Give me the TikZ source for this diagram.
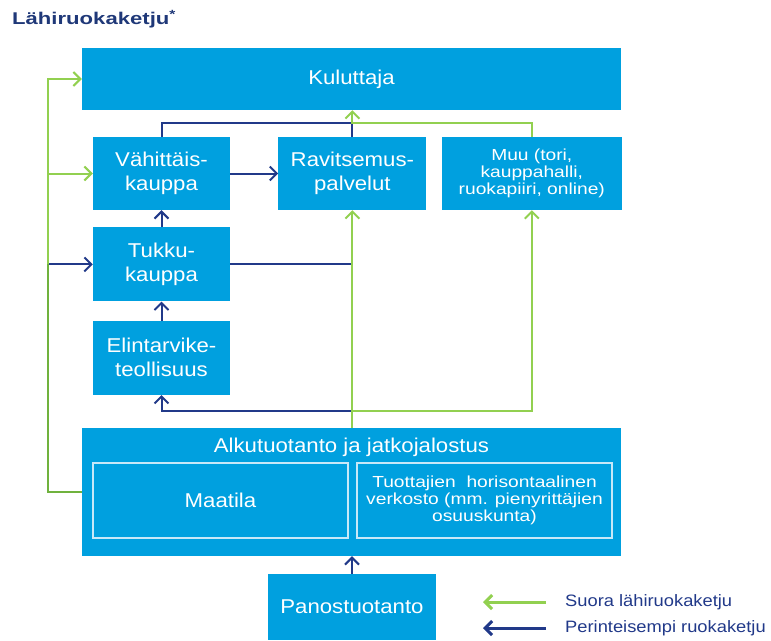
\documentclass[tikz,border=0pt]{standalone}
\usepackage{fontspec}
\newfontfamily\boxtxt[FakeStretch=1.11]{Liberation Sans}
\newfontfamily\smalltxt[FakeStretch=1.2]{Liberation Sans}
\newfontfamily\titletxt[FakeStretch=1.3]{Liberation Sans}
\usetikzlibrary{positioning}
\usetikzlibrary{arrows.meta}
\definecolor{boxblue}{RGB}{0,160,223}
\definecolor{suora}{RGB}{146,208,80}
\definecolor{suoradark}{RGB}{112,178,62}
\definecolor{perint}{RGB}{33,57,137}
\definecolor{titleblue}{RGB}{31,56,120}
\definecolor{reuna}{RGB}{200,232,248}

\begin{document}
\begin{tikzpicture}[x=1pt, y=-1pt, node distance=17pt and 48pt, box/.style={fill=boxblue, text=white, inner sep=0pt, align=center, minimum width=137pt, minimum height=73pt, font=\boxtxt\fontsize{20}{24}\selectfont}, sisa/.style={draw=reuna, line width=1.2pt, text=white, inner sep=0pt, align=center, minimum width=255pt, minimum height=75pt}]
\tikzstyle{gline}=[draw=suora, line width=2pt]
\tikzstyle{bline}=[draw=perint, line width=2pt]
\tikzstyle{pieni}=[font=\smalltxt\fontsize{16}{17}\selectfont]
\tikzstyle{selite}=[font=\boxtxt\fontsize{16.5}{20}\selectfont, text=perint, anchor=west, inner sep=0pt]
\tikzset {>={Straight Barb[length=7pt,width=14pt]}}

\useasboundingbox (0,0) rectangle (771,640);

\node (otsikko) [font=\titletxt\bfseries\fontsize{17}{20}\selectfont, text=titleblue, anchor=west, inner sep=0pt] at (12,19) {Lähiruokaketju\textsuperscript{*}};

\node (kul) [box, minimum width=539pt, minimum height=62pt] at (351.5,79) {Kuluttaja};
\node (vah) [box] at (161.5,173.5) {Vähittäis-\\kauppa};
\node (rav) [box, minimum width=148pt, right=of vah] {Ravitsemus-\\palvelut};
\node (muu) [box, pieni, minimum width=180pt, right=15pt of rav] {Muu (tori,\\kauppahalli,\\ruokapiiri, online)};
\node (tuk) [box, minimum height=74pt, below=of vah] {Tukku-\\kauppa};
\node (eli) [box, minimum height=74pt, below=19pt of tuk] {Elintarvike-\\teollisuus};
\node (alku) [box, minimum width=539pt, minimum height=128pt] at (351.5,492) {};
\node (alkut) [box, minimum width=0pt, minimum height=0pt, fill=none] at (351.5,447) {Alkutuotanto ja jatkojalostus};
\node (maa) [sisa, font=\boxtxt\fontsize{20}{24}\selectfont] at (220.5,500.5) {Maatila};
\node (tuo) [sisa, pieni] at (484.5,500.5) {Tuottajien \ horisontaalinen\\verkosto (mm. pienyrittäjien\\osuuskunta)};
\node (pan) [box, minimum width=168pt, minimum height=66pt] at (352,607) {Panostuotanto};

% left
\coordinate (gl) at (48,492);
\coordinate (bj) at (gl |- tuk.west);
\draw [bline, ->] (bj) -- (tuk.west);
\draw [gline, draw=suoradark] (alku.west) -- (gl) -- (bj);
\draw [gline, ->] (bj) |- (kul.west);
\draw [gline, ->] (bj |- vah.west) -- (vah.west);

% top
\coordinate (jt) at (rav.north |- 0,123);
\draw [bline] (vah.north) |- (jt);
\draw [bline] (rav.north) -- (jt);
\draw [gline, ->] (muu.north) |- (jt) -- (jt |- kul.south);

% middle
\draw [bline, ->] (vah) -- (rav);
\draw [bline, ->] (tuk) -- (vah);
\draw [bline, ->] (eli) -- (tuk);
\draw [bline] (tuk.east) -- (tuk.east -| rav.south);

% bottom
\coordinate (jb) at (rav.south |- 0,411);
\draw [bline, ->] (jb) -| (eli.south);
\draw [gline, ->] (jb) -| (muu.south);
\draw [gline, ->] (rav.south |- alku.north) -- (rav.south);
\draw [bline, ->] (pan) -- (pan |- alku.south);

% legend
\node (leg1) [selite] at (565,602) {Suora lähiruokaketju};
\node (leg2) [selite] at (565,628) {Perinteisempi ruokaketju};
\coordinate (l1a) at (546,602);
\coordinate (l1b) at (483,602);
\coordinate (l2a) at (546,628);
\coordinate (l2b) at (483,628);
\draw [gline, line width=3pt, ->] (l1a) -- (l1b);
\draw [bline, line width=3pt, ->] (l2a) -- (l2b);
\end{tikzpicture}
\end{document}
